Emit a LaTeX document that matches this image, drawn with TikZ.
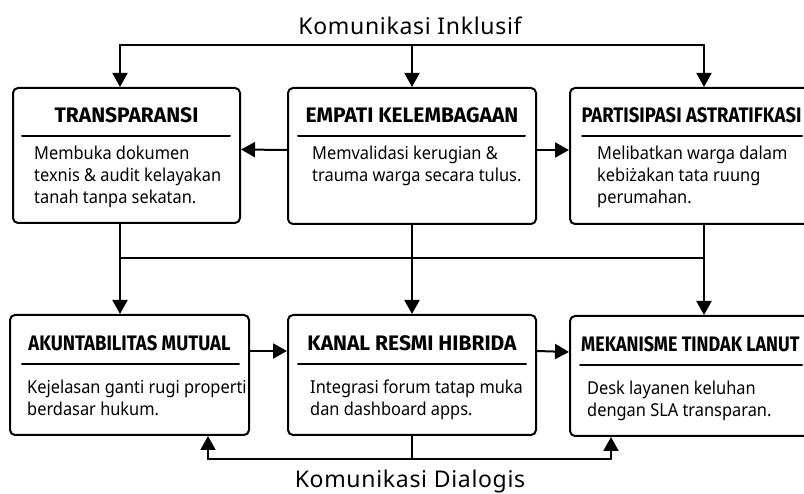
\documentclass[tikz,border=0pt]{standalone}
\usepackage{fontspec}
\setmainfont{Noto Sans}[FakeStretch=0.92]
\newfontfamily\titlefont{Fira Sans}
\newfontfamily\narrowtitlefont{Fira Sans}[FakeStretch=0.88]
\newfontfamily\tighttitlefont{Fira Sans}[FakeStretch=0.855]
\newfontfamily\capfont{Noto Sans}[LetterSpace=3]
\usetikzlibrary{arrows.meta}

\tikzset{
  card/.style={draw, line width=2pt, rounded corners=5pt, inner sep=0pt, anchor=north west},
  cardtitle/.style={font=\titlefont\bfseries\fontsize{21}{24}\selectfont, inner sep=0pt},
  narrowtitle/.style={cardtitle, font=\narrowtitlefont\bfseries\fontsize{21}{24}\selectfont},
  tighttitle/.style={cardtitle, font=\tighttitlefont\bfseries\fontsize{21}{24}\selectfont},
  cardtext/.style={font=\fontsize{17.8}{22}\selectfont, align=left, inner sep=0pt, anchor=north west},
  cardrule/.style={line width=2pt},
  link/.style={line width=2pt},
  flow/.style={line width=2pt, -{Triangle[width=15pt,length=14pt]}},
  caption/.style={font=\capfont\fontsize{23}{26}\selectfont, inner sep=0pt, anchor=base}
}

\begin{document}
\begin{tikzpicture}[x=1pt, y=-1pt, line cap=round, line join=round]
  \useasboundingbox (0,0) rectangle (804,494);
  \clip (0,0) rectangle (804,494);

  % Baris atas
  \node[card, minimum width=227pt, minimum height=135pt] (transparansi) at (12,87) {};
  \node[card, minimum width=248pt, minimum height=136pt] (empati) at (287,87) {};
  \node[card, minimum width=243pt, minimum height=136pt] (partisipasi) at (569,87) {};

  \node[cardtitle] (transparansi-t) at ([yshift=-28.5pt]transparansi.north) {TRANSPARANSI};
  \node[cardtitle] (empati-t) at ([yshift=-28.5pt]empati.north) {EMPATI KELEMBAGAAN};
  \node[narrowtitle] (partisipasi-t) at ([yshift=-28.5pt]partisipasi.north) {PARTISIPASI ASTRATIFKASI};

  \draw[cardrule] ([xshift=10pt,yshift=-49pt]transparansi.north west) -- ([xshift=-11pt,yshift=-49pt]transparansi.north east);
  \draw[cardrule] ([xshift=11pt,yshift=-49pt]empati.north west) -- ([xshift=-12pt,yshift=-49pt]empati.north east);
  \draw[cardrule] ([xshift=13pt,yshift=-49pt]partisipasi.north west) -- ([xshift=-12pt,yshift=-49pt]partisipasi.north east);

  \node[cardtext] (transparansi-b) at ([xshift=22pt,yshift=-59pt]transparansi.north west)
    {Membuka dokumen\\texnis \& audit kelayakan\\tanah tanpa sekatan.};
  \node[cardtext] (empati-b) at ([xshift=25pt,yshift=-59pt]empati.north west)
    {Memvalidasi kerugian \&\\trauma warga secara tulus.};
  \node[cardtext] (partisipasi-b) at ([xshift=28pt,yshift=-59pt]partisipasi.north west)
    {Melibatkan warga dalam\\kebiżakan tata ruung\\perumahan.};

  % Baris bawah
  \node[card, minimum width=239pt, minimum height=120pt] (akuntabilitas) at (9,314) {};
  \node[card, minimum width=248pt, minimum height=120pt] (kanal) at (287,314) {};
  \node[card, minimum width=243pt, minimum height=120pt] (mekanisme) at (569,315) {};

  \node[narrowtitle] (akuntabilitas-t) at ([yshift=-29pt]akuntabilitas.north) {AKUNTABILITAS MUTUAL};
  \node[cardtitle] (kanal-t) at ([yshift=-29pt]kanal.north) {KANAL RESMI HIBRIDA};
  \node[tighttitle, anchor=west] (mekanisme-t) at ([xshift=12pt,yshift=-29pt]mekanisme.north west) {MEKANISME TINDAK LANUT};

  \draw[cardrule] ([xshift=13pt,yshift=-50pt]akuntabilitas.north west) -- ([xshift=-11pt,yshift=-50pt]akuntabilitas.north east);
  \draw[cardrule] ([xshift=11pt,yshift=-50pt]kanal.north west) -- ([xshift=-11pt,yshift=-50pt]kanal.north east);
  \draw[cardrule] ([xshift=11pt,yshift=-50pt]mekanisme.north west) -- ([xshift=-12pt,yshift=-50pt]mekanisme.north east);

  \node[cardtext] (akuntabilitas-b) at ([xshift=18pt,yshift=-66pt]akuntabilitas.north west)
    {Kejelasan ganti rugi properti\\berdasar hukum.};
  \node[cardtext] (kanal-b) at ([xshift=23pt,yshift=-66pt]kanal.north west)
    {Integrasi forum tatap muka\\dan dashboard apps.};
  \node[cardtext] (mekanisme-b) at ([xshift=18pt,yshift=-66pt]mekanisme.north west)
    {Desk layanen keluhan\\dengan SLA transparan.};

  % Komunikasi Inklusif
  \coordinate (inklusif-l) at (120,45);
  \coordinate (inklusif-r) at (704,45);
  \node[caption] (inklusif) at (410,35) {Komunikasi Inklusif};
  \draw[link] (inklusif-l) -- (inklusif-r);
  \draw[flow] (inklusif-l) -- (inklusif-l |- transparansi.north);
  \draw[flow] (empati.north |- inklusif-l) -- (empati.north);
  \draw[flow] (inklusif-r) -- (inklusif-r |- partisipasi.north);

  % Antar kartu baris atas
  \draw[flow] ([yshift=6pt]empati.west) -- ([yshift=6pt]transparansi.east);
  \draw[flow] ([yshift=6pt]empati.east) -- ([yshift=6pt]partisipasi.west);

  % Dari baris atas ke baris bawah
  \coordinate (bus-l) at (120,258);
  \coordinate (bus-r) at (704,258);
  \draw[link] (bus-l |- transparansi.south) -- (bus-l) -- (bus-r) -- (bus-r |- partisipasi.south);
  \draw[flow] (bus-l) -- (bus-l |- akuntabilitas.north);
  \draw[flow] (empati.south) -- (kanal.north);
  \draw[flow] (bus-r) -- (bus-r |- mekanisme.north);

  % Antar kartu baris bawah
  \draw[flow] ([yshift=24pt]akuntabilitas.east) -- ([yshift=24pt]kanal.west);
  \draw[flow] ([yshift=24pt]kanal.east) -- ([yshift=24pt]mekanisme.west);

  % Komunikasi Dialogis
  \coordinate (dialogis-l) at (208,459);
  \coordinate (dialogis-r) at (611,459);
  \node[caption] (dialogis) at (410,488) {Komunikasi Dialogis};
  \draw[link] (dialogis-l) -- (dialogis-r);
  \draw[link] (kanal.south) -- (kanal.south |- dialogis-l);
  \draw[flow] (dialogis-l) -- (dialogis-l |- akuntabilitas.south);
  \draw[flow] (dialogis-r) -- (dialogis-r |- mekanisme.south);
\end{tikzpicture}
\end{document}
